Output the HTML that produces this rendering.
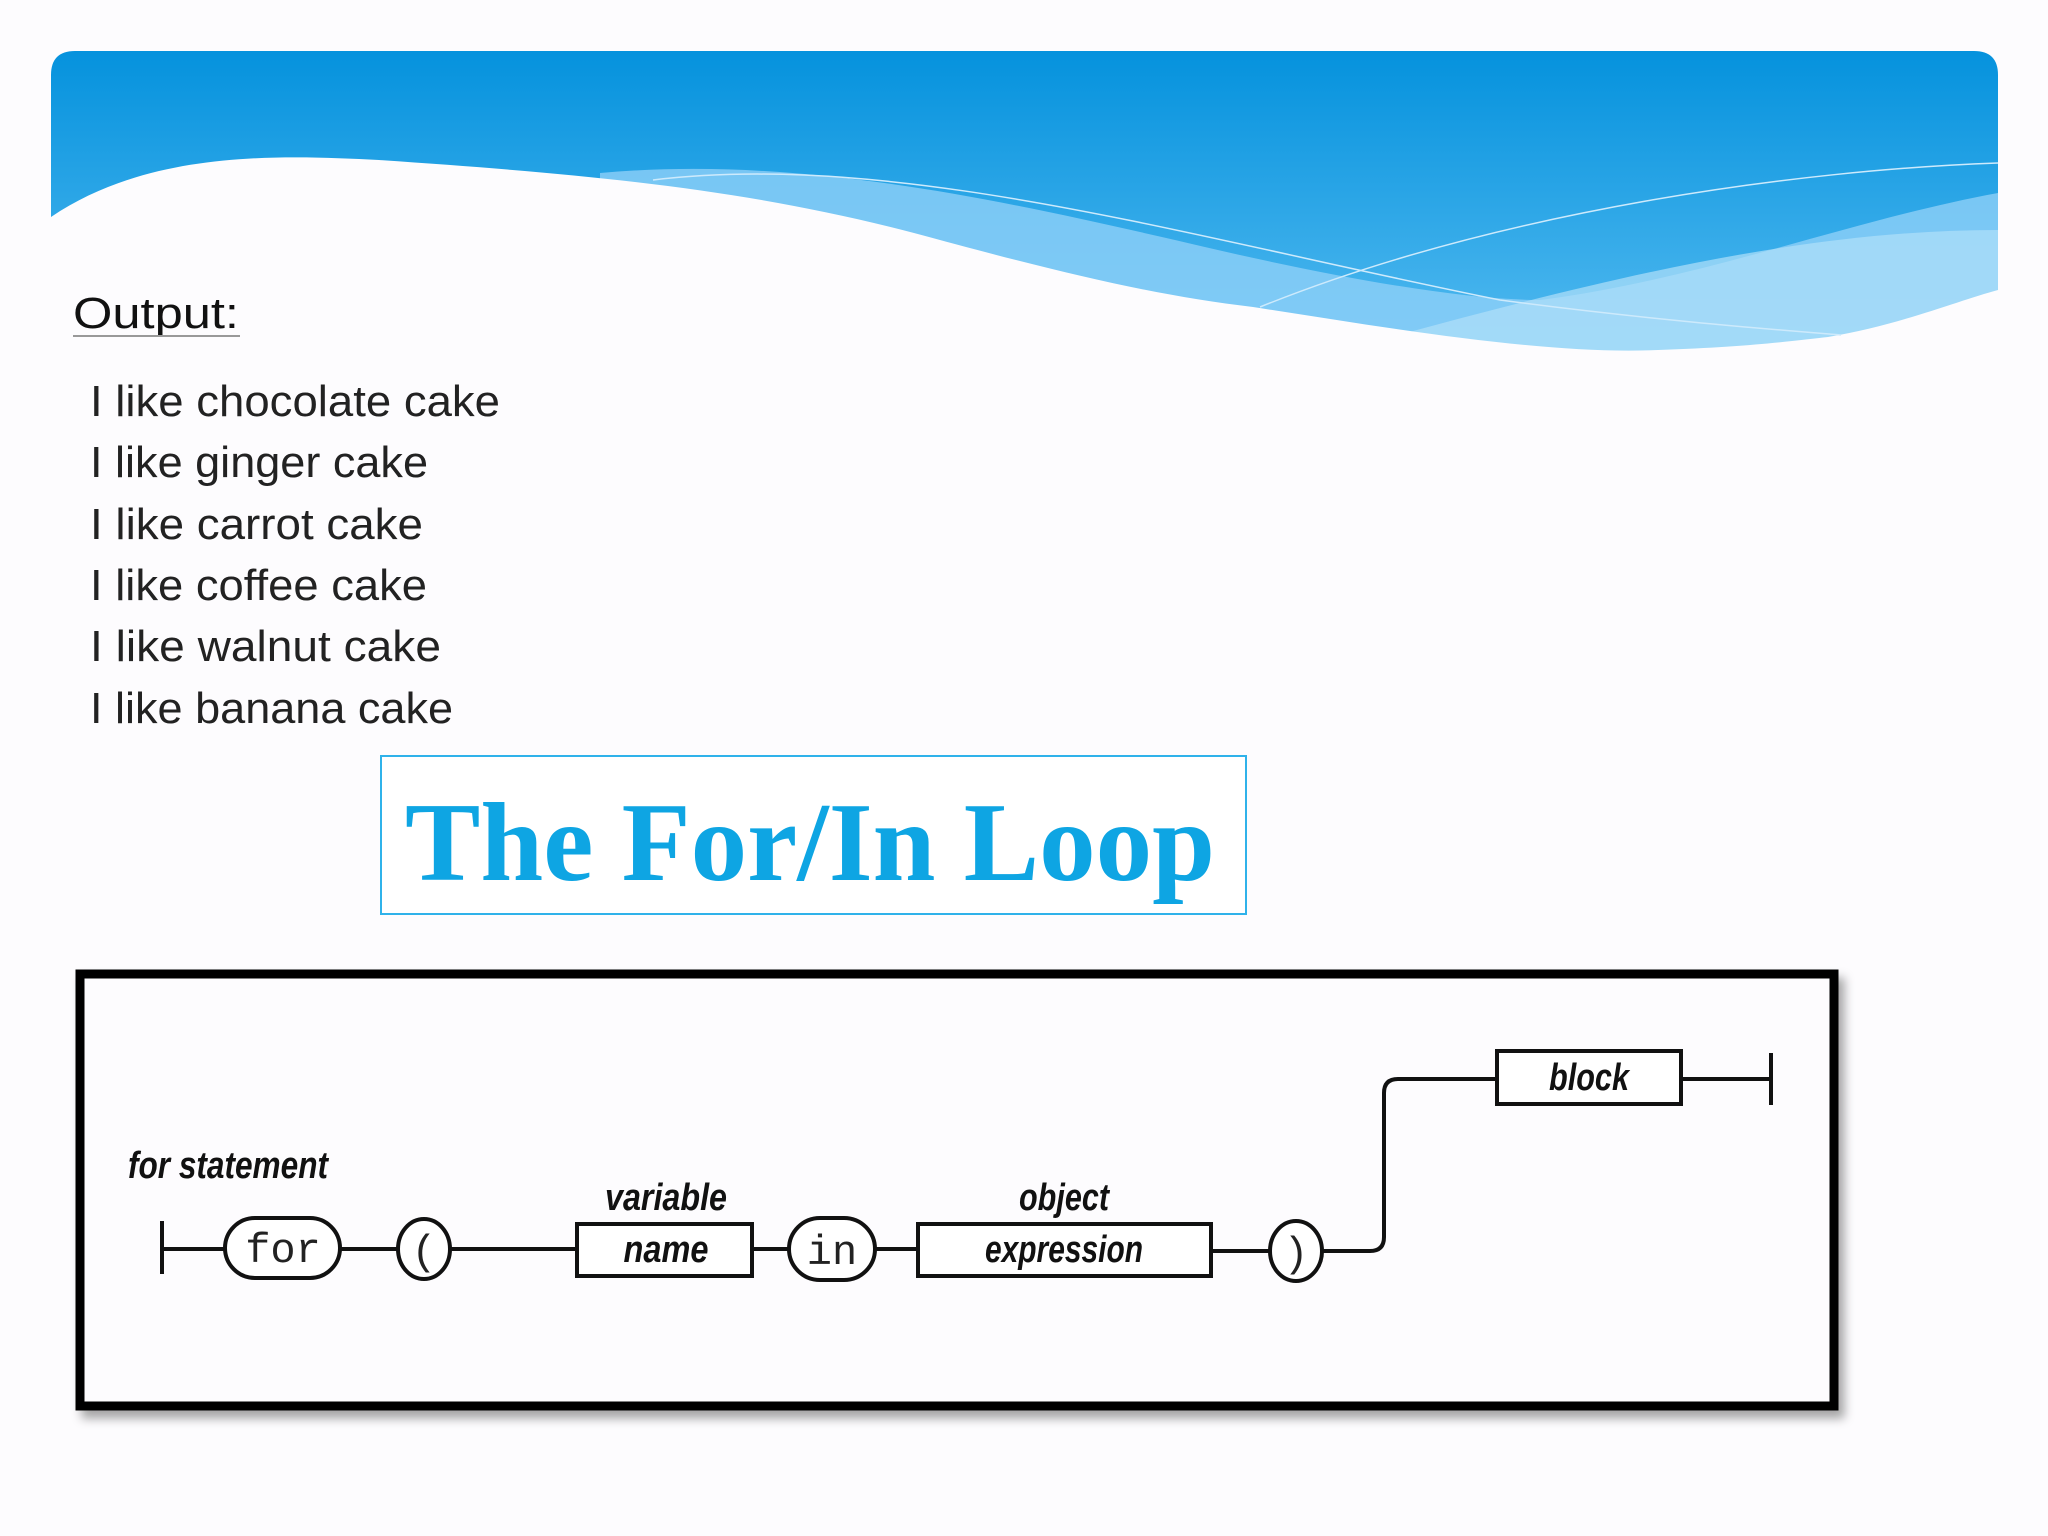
<!DOCTYPE html>
<html><head><meta charset="utf-8"><style>
html,body{margin:0;padding:0;background:#fdfcfe;}
svg{display:block}
</style></head><body>
<svg width="2048" height="1536" viewBox="0 0 2048 1536" xmlns="http://www.w3.org/2000/svg">
<defs>
<linearGradient id="g" x1="0" y1="0" x2="0" y2="1">
<stop offset="0" stop-color="#0592dd"/><stop offset="1" stop-color="#5ec0f3"/>
</linearGradient>
<clipPath id="hc"><path d="M51 75 Q51 51 75 51 L1974 51 Q1998 51 1998 75 L1998 400 L51 400Z"/></clipPath>
<filter id="sh" x="-5%" y="-5%" width="110%" height="115%"><feDropShadow dx="6" dy="8" stdDeviation="5" flood-color="#000" flood-opacity="0.35"/></filter>
</defs>
<rect width="2048" height="1536" fill="#fdfcfe"/>
<g clip-path="url(#hc)">
<rect x="51" y="51" width="1947" height="349" fill="url(#g)"/>
<path d="M600 173 C800 155 1000 200 1175 240 C1300 270 1450 300 1540 300 C1700 280 1850 220 1998 193 L1998 400 L600 400Z" fill="#8dd0f7" opacity="0.8"/>
<path d="M1380 340 C1600 280 1800 230 1998 230 L1998 400 L1380 400Z" fill="#b0dff9" opacity="0.7"/>
<path d="M51 217 C150 150 280 155 379 160 C600 175 750 190 914 233 C1050 270 1150 295 1253 307 C1400 330 1550 355 1658 350 C1750 347 1800 340 1828 337 C1900 325 1960 300 1998 290 L1998 400 L51 400Z" fill="#fdfcfe"/>
<path d="M1260 307 C1500 210 1800 170 1998 163" stroke="#cdeafc" stroke-width="1.5" fill="none"/>
<path d="M653 180 C900 150 1200 240 1500 300 C1650 320 1780 330 1841 335" stroke="#cdeafc" stroke-width="1.5" fill="none"/>
</g>
<g font-family="'Liberation Sans', 'DejaVu Sans', sans-serif" fill="#222">
<text x="73" y="328" font-size="44" fill="#111" textLength="166" lengthAdjust="spacingAndGlyphs">Output:</text>
<line x1="73" y1="336" x2="240" y2="336" stroke="#999" stroke-width="2"/>
<text x="90" y="416" font-size="44" textLength="410" lengthAdjust="spacingAndGlyphs">I like chocolate cake</text>
<text x="90" y="477" font-size="44" textLength="338" lengthAdjust="spacingAndGlyphs">I like ginger cake</text>
<text x="90" y="539" font-size="44" textLength="333" lengthAdjust="spacingAndGlyphs">I like carrot cake</text>
<text x="90" y="600" font-size="44" textLength="337" lengthAdjust="spacingAndGlyphs">I like coffee cake</text>
<text x="90" y="661" font-size="44" textLength="351" lengthAdjust="spacingAndGlyphs">I like walnut cake</text>
<text x="90" y="723" font-size="44" textLength="363" lengthAdjust="spacingAndGlyphs">I like banana cake</text>
</g>
<rect x="381" y="756" width="865" height="158" fill="#fff" stroke="#2fb2ea" stroke-width="2"/>
<text x="810" y="880" text-anchor="middle" font-family="'Liberation Serif', serif" font-weight="bold" font-size="112" fill="#0ea5e3" textLength="810" lengthAdjust="spacingAndGlyphs">The For/In Loop</text>
<rect x="80" y="974" width="1754" height="432" fill="#fdfcfe" stroke="#000" stroke-width="9" filter="url(#sh)"/>
<g stroke="#111" stroke-width="4" fill="none">
<line x1="162" y1="1221" x2="162" y2="1274"/>
<line x1="162" y1="1249" x2="225" y2="1249"/>
<rect x="225" y="1218" width="115" height="60" rx="30" fill="#fff"/>
<line x1="340" y1="1249" x2="398" y2="1249"/>
<ellipse cx="424" cy="1249" rx="26" ry="30" fill="#fff"/>
<line x1="450" y1="1249" x2="577" y2="1249"/>
<rect x="577" y="1224" width="175" height="52" fill="#fff"/>
<line x1="752" y1="1249" x2="789" y2="1249"/>
<rect x="789" y="1218" width="86" height="62" rx="31" fill="#fff"/>
<line x1="875" y1="1249" x2="918" y2="1249"/>
<rect x="918" y="1224" width="293" height="52" fill="#fff"/>
<line x1="1211" y1="1251" x2="1270" y2="1251"/>
<ellipse cx="1296" cy="1251" rx="26" ry="30" fill="#fff"/>
<path d="M1322 1251 L1370 1251 Q1384 1251 1384 1237 L1384 1093 Q1384 1079 1398 1079 L1497 1079"/>
<rect x="1497" y="1051" width="184" height="53" fill="#fff"/>
<line x1="1681" y1="1079" x2="1771" y2="1079"/>
<line x1="1771" y1="1053" x2="1771" y2="1105"/>
</g>
<g font-family="'Liberation Sans', sans-serif" font-style="italic" font-weight="bold" fill="#111" text-anchor="middle">
<text x="228" y="1178" font-size="38" textLength="200" lengthAdjust="spacingAndGlyphs">for statement</text>
<text x="666" y="1210" font-size="38" textLength="122" lengthAdjust="spacingAndGlyphs">variable</text>
<text x="666" y="1262" font-size="38" textLength="85" lengthAdjust="spacingAndGlyphs">name</text>
<text x="1064" y="1210" font-size="38" textLength="90" lengthAdjust="spacingAndGlyphs">object</text>
<text x="1064" y="1262" font-size="38" textLength="158" lengthAdjust="spacingAndGlyphs">expression</text>
<text x="1589" y="1090" font-size="38" textLength="80" lengthAdjust="spacingAndGlyphs">block</text>
</g>
<g font-family="'Liberation Mono', monospace" fill="#222" text-anchor="middle" font-size="42">
<text x="283" y="1262">for</text>
<text x="832" y="1264">in</text>
<text x="424" y="1264">(</text>
<text x="1296" y="1266">)</text>
</g>
</svg>
</body></html>
